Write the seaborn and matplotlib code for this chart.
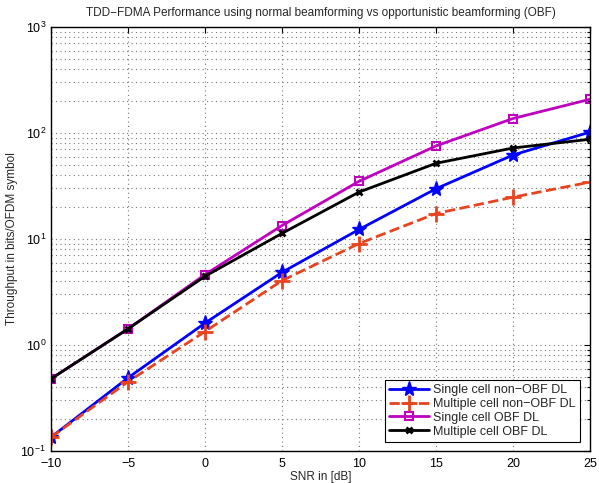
import numpy as np
import pandas as pd
import matplotlib
matplotlib.use("Agg")
import matplotlib.pyplot as plt
import seaborn as sns
from matplotlib.ticker import LogLocator, FixedLocator

snr = [-10, -5, 0, 5, 10, 15, 20, 25]
single_non_obf = [0.135, 0.49, 1.61, 4.85, 12.3, 29.8, 62, 102]
multi_non_obf = [0.135, 0.45, 1.34, 4.05, 9.06, 17.4, 24.8, 34.4]
single_obf = [0.48, 1.42, 4.62, 13.4, 35, 75.5, 137, 208]
multi_obf = [0.48, 1.42, 4.45, 11.3, 27.7, 51.8, 72.2, 87.3]
labels = ["Single cell non\u2212OBF DL", "Multiple cell non\u2212OBF DL",
          "Single cell OBF DL", "Multiple cell OBF DL"]

sns.set_theme(style="white")
plt.rcParams['font.family'] = ['Liberation Sans', 'DejaVu Sans']
plt.rcParams['mathtext.fontset'] = 'custom'
plt.rcParams['mathtext.rm'] = 'Liberation Sans'
plt.rcParams['mathtext.it'] = 'Liberation Sans'

fig = plt.figure(figsize=(5.99, 4.83), dpi=100)
ax = fig.add_axes([51 / 599, 32 / 483, 539 / 599, 424 / 483])

styles = [
    dict(color=(0, 0, 1), marker='*', ms=11, ls='-', mfc=(0, 0, 1)),
    dict(color='#e8431e', marker='+', ms=11, ls='--', mfc='none', mew=2),
    dict(color=(0.75, 0, 0.75), marker='s', ms=6, ls='-', mfc='none', mew=1.5),
    dict(color='black', marker='x', ms=5, ls='-', mfc='none', mew=2),
]
series = [single_non_obf, multi_non_obf, single_obf, multi_obf]
for vals, lab, st in zip(series, labels, styles):
    df = pd.DataFrame({"snr": snr, "tp": vals})
    sns.lineplot(data=df, x="snr", y="tp", ax=ax, label=lab, color=st['color'],
                 linestyle=st['ls'], linewidth=2, marker=st['marker'],
                 markersize=st['ms'], markerfacecolor=st['mfc'],
                 markeredgecolor=st['color'], markeredgewidth=st.get('mew', 1))

ax.set_yscale('log')
ax.set_xlim(-10, 25)
ax.set_ylim(0.1, 1000)
ax.xaxis.set_major_locator(FixedLocator([-10, -5, 0, 5, 10, 15, 20, 25]))
ax.set_xticklabels(["\u221210", "\u22125", "0", "5", "10", "15", "20", "25"])
ax.yaxis.set_major_locator(LogLocator(base=10, numticks=10))
ax.yaxis.set_minor_locator(LogLocator(base=10, subs=np.arange(2, 10), numticks=20))

ax.grid(True, which='major', axis='both', linestyle=(0, (1, 3)), color='#777777', linewidth=0.8)
ax.grid(True, which='minor', axis='y', linestyle=(0, (1, 3)), color='#777777', linewidth=0.8)
ax.tick_params(which='both', direction='in', top=True, right=True, labelsize=9,
               length=4, width=0.8, colors='black')
ax.tick_params(which='minor', length=2.5)
ax.tick_params(axis='x', pad=5)
for s in ax.spines.values():
    s.set_color('black')
    s.set_linewidth(1)

ax.set_title("TDD\u2212FDMA Performance using normal beamforming vs opportunistic beamforming (OBF)",
             fontsize=8.5, pad=8)
ax.set_xlabel("SNR in [dB]", fontsize=8.5, labelpad=1)
ax.set_ylabel("Throughput in bits/OFDM symbol", fontsize=8.5, labelpad=2)

leg = ax.legend(loc='lower right', bbox_to_anchor=(1 - 10 / 539, 9 / 424), fontsize=9,
                frameon=True, fancybox=False, framealpha=1, edgecolor='black',
                borderpad=0.35, labelspacing=0.15, handlelength=3.2, handletextpad=0.3,
                borderaxespad=0)
leg.get_frame().set_linewidth(0.8)

fig.savefig("out.png", dpi=100, facecolor='white')
